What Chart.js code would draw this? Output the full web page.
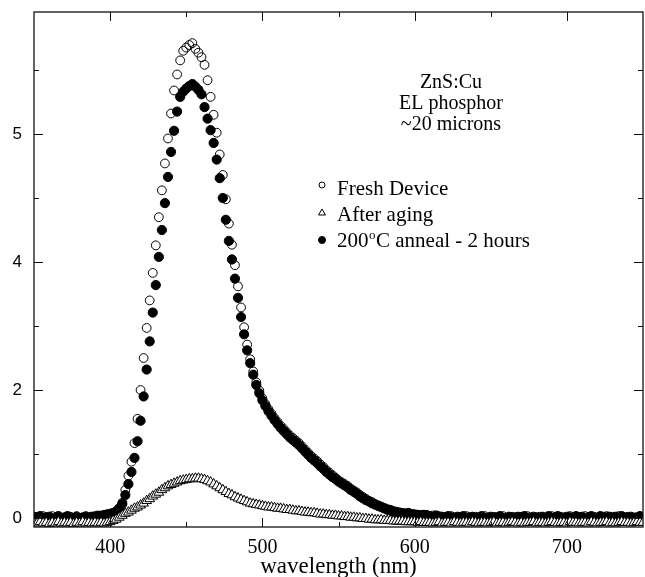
<!DOCTYPE html>
<html>
<head>
<meta charset="utf-8">
<script src="https://cdn.jsdelivr.net/npm/chart.js@4.4.0/dist/chart.umd.min.js"></script>
<style>
  html, body { margin: 0; padding: 0; background: #fff; }
</style>
</head>
<body>
<canvas id="el-spectrum" width="645" height="577"></canvas>
<script>
// wavelength grid (nm), one row = 20 nm
var wavelengths = [
  350, 352, 354, 356, 358, 360, 362, 364, 366, 368,
  370, 372, 374, 376, 378, 380, 382, 384, 386, 388,
  390, 392, 394, 396, 398, 400, 402, 404, 406, 408,
  410, 412, 414, 416, 418, 420, 422, 424, 426, 428,
  430, 432, 434, 436, 438, 440, 442, 444, 446, 448,
  450, 452, 454, 456, 458, 460, 462, 464, 466, 468,
  470, 472, 474, 476, 478, 480, 482, 484, 486, 488,
  490, 492, 494, 496, 498, 500, 502, 504, 506, 508,
  510, 512, 514, 516, 518, 520, 522, 524, 526, 528,
  530, 532, 534, 536, 538, 540, 542, 544, 546, 548,
  550, 552, 554, 556, 558, 560, 562, 564, 566, 568,
  570, 572, 574, 576, 578, 580, 582, 584, 586, 588,
  590, 592, 594, 596, 598, 600, 602, 604, 606, 608,
  610, 612, 614, 616, 618, 620, 622, 624, 626, 628,
  630, 632, 634, 636, 638, 640, 642, 644, 646, 648,
  650, 652, 654, 656, 658, 660, 662, 664, 666, 668,
  670, 672, 674, 676, 678, 680, 682, 684, 686, 688,
  690, 692, 694, 696, 698, 700, 702, 704, 706, 708,
  710, 712, 714, 716, 718, 720, 722, 724, 726, 728,
  730, 732, 734, 736, 738, 740, 742, 744, 746, 748,
  750
];

var freshDevice = [
  -0.02, 0.02, 0.00, 0.03, -0.03, 0.01, 0.03, -0.01, 0.02, 0.00,
  -0.03, 0.01, 0.02, -0.02, 0.03, 0.00, -0.01, 0.03, 0.01, 0.02,
  0.03, 0.04, 0.04, 0.05, 0.06, 0.07, 0.08, 0.11, 0.16, 0.24,
  0.44, 0.66, 0.88, 1.17, 1.55, 2.00, 2.50, 2.97, 3.40, 3.83,
  4.26, 4.70, 5.12, 5.54, 5.93, 6.32, 6.68, 6.93, 7.15, 7.30,
  7.35, 7.39, 7.42, 7.33, 7.27, 7.20, 7.08, 6.84, 6.58, 6.30,
  6.02, 5.68, 5.36, 4.98, 4.60, 4.27, 3.95, 3.62, 3.29, 2.98,
  2.71, 2.48, 2.29, 2.12, 1.99, 1.87, 1.78, 1.70, 1.63, 1.56,
  1.50, 1.44, 1.39, 1.34, 1.29, 1.25, 1.21, 1.17, 1.12, 1.07,
  1.02, 0.97, 0.93, 0.89, 0.84, 0.80, 0.75, 0.71, 0.67, 0.63,
  0.59, 0.56, 0.53, 0.50, 0.46, 0.43, 0.40, 0.36, 0.33, 0.30,
  0.27, 0.25, 0.22, 0.20, 0.18, 0.16, 0.14, 0.13, 0.11, 0.10,
  0.09, 0.08, 0.07, 0.07, 0.06, 0.06, 0.05, 0.05, 0.04, 0.05,
  0.02, 0.04, 0.01, 0.03, -0.01, 0.02, 0.00, 0.03, 0.01, -0.02,
  0.02, 0.00, 0.03, -0.01, 0.01, 0.02, -0.02, 0.00, 0.03, 0.01,
  -0.02, 0.02, 0.00, 0.01, 0.03, -0.02, 0.01, 0.02, -0.01, 0.00,
  0.02, -0.01, 0.03, 0.01, -0.02, 0.00, 0.02, 0.01, -0.03, 0.01,
  0.03, 0.00, -0.02, 0.02, 0.01, -0.01, 0.03, 0.00, -0.02, 0.02,
  0.00, 0.03, -0.01, 0.01, 0.02, -0.02, 0.00, 0.02, 0.03, -0.01,
  0.02, 0.00, 0.03, -0.01, 0.01, 0.02, -0.02, 0.01, 0.00, 0.02,
  0.01
];

var afterAging = [
  -0.07, -0.08, -0.06, -0.08, -0.07, -0.09, -0.07, -0.08, -0.06, -0.08,
  -0.07, -0.08, -0.07, -0.09, -0.07, -0.08, -0.06, -0.08, -0.07, -0.08,
  -0.07, -0.08, -0.07, -0.08, -0.07, -0.06, -0.04, -0.02, 0.01, 0.04,
  0.07, 0.09, 0.12, 0.15, 0.17, 0.20, 0.23, 0.27, 0.30, 0.34,
  0.37, 0.40, 0.44, 0.47, 0.50, 0.52, 0.54, 0.56, 0.58, 0.59,
  0.60, 0.61, 0.61, 0.62, 0.62, 0.61, 0.60, 0.58, 0.56, 0.53,
  0.50, 0.47, 0.44, 0.41, 0.38, 0.36, 0.33, 0.31, 0.29, 0.27,
  0.25, 0.23, 0.22, 0.21, 0.20, 0.19, 0.18, 0.17, 0.17, 0.16,
  0.15, 0.15, 0.14, 0.13, 0.13, 0.12, 0.11, 0.11, 0.10, 0.09,
  0.09, 0.08, 0.08, 0.07, 0.06, 0.06, 0.05, 0.05, 0.04, 0.04,
  0.03, 0.03, 0.02, 0.02, 0.01, 0.01, 0.00, 0.00, -0.01, -0.01,
  -0.02, -0.02, -0.03, -0.03, -0.03, -0.04, -0.04, -0.04, -0.05, -0.05,
  -0.05, -0.05, -0.06, -0.06, -0.06, -0.06, -0.07, -0.06, -0.07, -0.07,
  -0.07, -0.08, -0.07, -0.06, -0.08, -0.07, -0.07, -0.08, -0.06, -0.07,
  -0.08, -0.07, -0.07, -0.08, -0.06, -0.07, -0.08, -0.07, -0.07, -0.08,
  -0.07, -0.06, -0.08, -0.07, -0.07, -0.08, -0.07, -0.06, -0.07, -0.08,
  -0.07, -0.08, -0.07, -0.07, -0.06, -0.08, -0.07, -0.07, -0.08, -0.07,
  -0.06, -0.07, -0.08, -0.07, -0.07, -0.08, -0.06, -0.07, -0.07, -0.08,
  -0.07, -0.07, -0.08, -0.06, -0.07, -0.08, -0.07, -0.07, -0.06, -0.08,
  -0.07, -0.08, -0.07, -0.06, -0.07, -0.07, -0.08, -0.07, -0.06, -0.07,
  -0.07
];

var annealed = [
  0.02, -0.01, 0.03, -0.03, 0.01, 0.02, -0.02, 0.00, 0.03, -0.01,
  0.01, 0.03, -0.02, 0.00, 0.02, -0.03, 0.01, 0.02, -0.01, 0.02,
  0.02, 0.03, 0.03, 0.04, 0.05, 0.06, 0.08, 0.10, 0.14, 0.22,
  0.36, 0.53, 0.72, 0.94, 1.20, 1.52, 1.90, 2.32, 2.76, 3.21,
  3.64, 4.08, 4.50, 4.92, 5.33, 5.72, 6.05, 6.35, 6.58, 6.66,
  6.71, 6.75, 6.78, 6.74, 6.69, 6.62, 6.42, 6.24, 6.06, 5.86,
  5.60, 5.31, 5.00, 4.66, 4.33, 4.04, 3.74, 3.44, 3.14, 2.87,
  2.62, 2.42, 2.24, 2.08, 1.95, 1.84, 1.75, 1.67, 1.60, 1.53,
  1.47, 1.41, 1.36, 1.31, 1.26, 1.22, 1.18, 1.14, 1.09, 1.04,
  0.99, 0.94, 0.90, 0.86, 0.81, 0.77, 0.72, 0.68, 0.64, 0.61,
  0.57, 0.54, 0.51, 0.48, 0.44, 0.41, 0.38, 0.34, 0.31, 0.28,
  0.26, 0.23, 0.21, 0.19, 0.17, 0.15, 0.13, 0.12, 0.10, 0.09,
  0.08, 0.07, 0.07, 0.08, 0.06, 0.05, 0.05, 0.04, 0.05, 0.04,
  0.03, 0.01, 0.04, 0.00, 0.02, -0.01, 0.03, 0.01, -0.02, 0.02,
  0.00, 0.03, -0.02, 0.01, 0.02, -0.03, 0.01, 0.03, -0.01, 0.00,
  0.02, -0.02, 0.01, 0.03, -0.01, 0.00, 0.02, -0.03, 0.01, 0.02,
  -0.01, 0.03, 0.00, -0.02, 0.02, 0.01, -0.03, 0.02, 0.00, 0.03,
  -0.02, 0.01, 0.03, 0.00, -0.03, 0.02, 0.01, -0.01, 0.03, 0.00,
  0.02, -0.02, 0.01, 0.03, -0.01, 0.00, 0.03, -0.03, 0.01, 0.02,
  -0.01, 0.02, 0.00, 0.03, -0.02, 0.01, 0.02, -0.03, 0.01, 0.03,
  0.00
];

var seriesNames = ["Fresh Device", "After aging", "200°C anneal - 2 hours"];
var noteLines = ["ZnS:Cu", "EL phosphor", "~20 microns"];

var xMajorTicks = [400, 500, 600, 700],
  xMinorTicks = [450, 550, 650],
  yMajorTicks = [0, 2, 4, 6],
  yMinorTicks = [1, 3, 5, 7],
  yTickLabels = ["0", "2", "4", "5"];

var SERIF = "'Liberation Serif', 'Times New Roman', serif",
  SANS = "'Liberation Sans', Arial, sans-serif";

toPoints = (ys) => wavelengths.map((x, i) => ({ x: x, y: ys[i] }));

// box + inward ticks on all four sides
var frameTicks = {
  id: "frameTicks",
  afterDraw: function (chart) {
    var ctx = chart.ctx,
      a = chart.chartArea,
      xs = chart.scales.x,
      ys = chart.scales.y;
    ctx.save();
    ctx.strokeStyle = "#111";
    ctx.lineWidth = 1.3;
    ctx.strokeRect(a.left, a.top, a.right - a.left, a.bottom - a.top);
    ctx.lineWidth = 1;
    ctx.beginPath();
    var tickX = function (v, len) {
      var px = Math.round(xs.getPixelForValue(v)) + 0.5;
      ctx.moveTo(px, a.bottom);
      ctx.lineTo(px, a.bottom - len);
      ctx.moveTo(px, a.top);
      ctx.lineTo(px, a.top + len);
    };
    var tickY = function (v, len) {
      var py = Math.round(ys.getPixelForValue(v)) + 0.5;
      ctx.moveTo(a.left, py);
      ctx.lineTo(a.left + len, py);
      ctx.moveTo(a.right, py);
      ctx.lineTo(a.right - len, py);
    };
    xMajorTicks.forEach((v) => tickX(v, 9));
    xMinorTicks.forEach((v) => tickX(v, 5));
    yMajorTicks.forEach((v) => tickY(v, 9));
    yMinorTicks.forEach((v) => tickY(v, 5));
    ctx.stroke();
    ctx.restore();
  },
};

// sample note and the symbol key
var notesAndKey = {
  id: "notesAndKey",
  afterDraw: function (chart) {
    var ctx = chart.ctx;
    ctx.save();
    ctx.fillStyle = "#000";
    ctx.font = "20px " + SERIF;
    ctx.textAlign = "center";
    ctx.textBaseline = "alphabetic";
    noteLines.forEach((line, i) => ctx.fillText(line, 451, 88 + i * 21));

    var rowY = [185, 213, 240],
      textY = [195, 221, 247];
    chart.data.datasets.forEach((ds, i) => {
      ctx.save();
      ctx.fillStyle = ds.pointBackgroundColor;
      ctx.strokeStyle = ds.pointBorderColor;
      ctx.lineWidth = ds.pointBorderWidth;
      Chart.helpers.drawPoint(
        ctx,
        {
          pointStyle: ds.pointStyle,
          radius: ds.keyRadius,
          borderWidth: ds.pointBorderWidth,
          rotation: 0,
        },
        322,
        rowY[i]
      );
      ctx.restore();

      ctx.textAlign = "left";
      ctx.font = "21px " + SERIF;
      var parts = ds.label.split("°"),
        x = 337;
      ctx.fillText(parts[0], x, textY[i]);
      if (parts.length > 1) {
        x += ctx.measureText(parts[0]).width;
        ctx.font = "13px " + SERIF;
        ctx.fillText("o", x + 0.5, textY[i] - 8);
        x += ctx.measureText("o").width + 1;
        ctx.font = "21px " + SERIF;
        ctx.fillText(parts[1], x, textY[i]);
      }
    });
    ctx.restore();
  },
};

new Chart(document.getElementById("el-spectrum"), {
  type: "scatter",
  data: {
    datasets: [
      {
        label: seriesNames[0],
        data: toPoints(freshDevice),
        pointStyle: "circle",
        pointRadius: 4.4,
        pointBorderWidth: 1,
        pointBorderColor: "#000",
        pointBackgroundColor: "rgba(255,255,255,0)",
        keyRadius: 3,
        order: 2,
      },
      {
        label: seriesNames[1],
        data: toPoints(afterAging),
        pointStyle: "triangle",
        pointRadius: 5.6,
        pointBorderWidth: 1,
        pointBorderColor: "#000",
        pointBackgroundColor: "#fff",
        keyRadius: 4,
        order: 0,
      },
      {
        label: seriesNames[2],
        data: toPoints(annealed),
        pointStyle: "circle",
        pointRadius: 4.6,
        pointBorderWidth: 1,
        pointBorderColor: "#000",
        pointBackgroundColor: "#000",
        keyRadius: 3.5,
        order: 1,
      },
    ],
  },
  options: {
    responsive: false,
    animation: false,
    devicePixelRatio: 1,
    layout: {
      autoPadding: false,
      padding: { top: 12, right: 2, left: 0, bottom: 0 },
    },
    plugins: { legend: { display: false }, tooltip: { enabled: false } },
    scales: {
      x: {
        type: "linear",
        min: 350,
        max: 750,
        grid: { display: false, drawTicks: false },
        border: { display: false },
        afterBuildTicks: function (s) {
          s.ticks = xMajorTicks.map((v) => ({ value: v }));
        },
        afterFit: function (s) {
          s.height = 50;
          s.paddingLeft = 0;
          s.paddingRight = 0;
        },
        ticks: {
          color: "#000",
          padding: 9,
          maxRotation: 0,
          autoSkip: false,
          font: { family: SERIF, size: 20 },
        },
        title: {
          display: true,
          text: "wavelength (nm)",
          color: "#000",
          font: { family: SERIF, size: 23, lineHeight: 1 },
          padding: { top: 0, bottom: -1 },
        },
      },
      y: {
        type: "linear",
        min: -0.14,
        max: 7.906,
        grid: { display: false, drawTicks: false },
        border: { display: false },
        afterBuildTicks: function (s) {
          s.ticks = yMajorTicks.map((v) => ({ value: v }));
        },
        afterFit: function (s) {
          s.width = 34;
          s.paddingTop = 0;
          s.paddingBottom = 0;
        },
        ticks: {
          color: "#000",
          padding: 12,
          font: { family: SANS, size: 17 },
          callback: function (v) {
            return yTickLabels[yMajorTicks.indexOf(v)];
          },
        },
      },
    },
  },
  plugins: [frameTicks, notesAndKey],
});
</script>
</body>
</html>
